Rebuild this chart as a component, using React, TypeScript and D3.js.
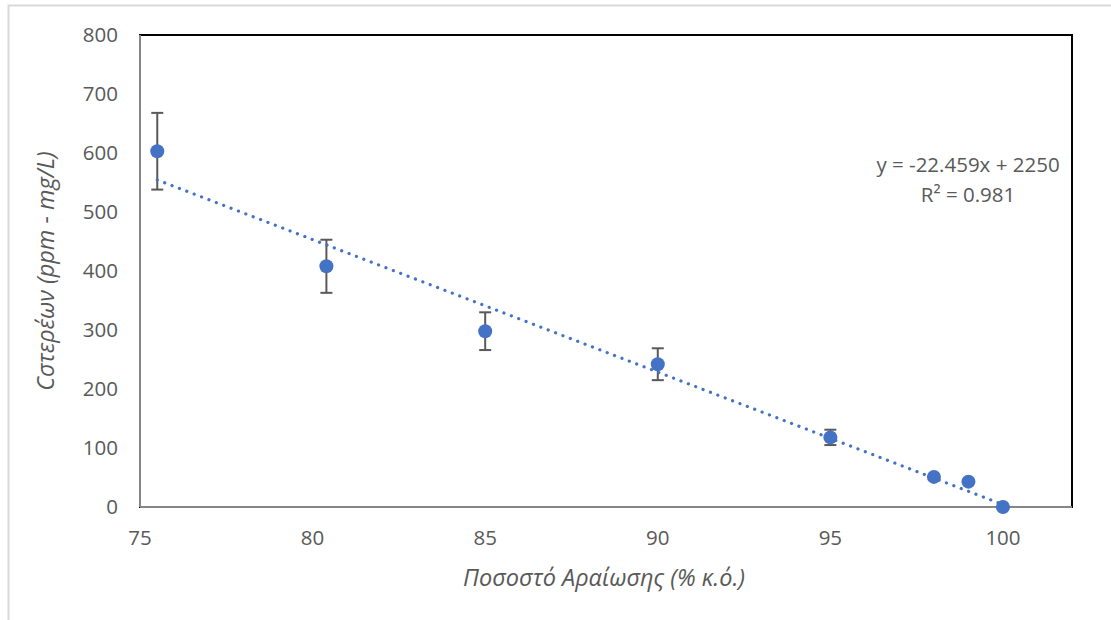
import React, { useEffect, useRef } from "react";
import * as d3 from "d3";

// dilution % and measured value, with error bar half-width
const dilution = [75.5, 80.4, 85, 90, 95, 98, 99, 100];
const solids = [603, 408, 298, 242, 118, 51, 43, 0];
const errors = [65, 45, 32, 27, 13, 0, 0, 0];
const xTicks = [75, 80, 85, 90, 95, 100];
const yTicks = [0, 100, 200, 300, 400, 500, 600, 700, 800];
const slope = -22.459;
const intercept = 2250;
const equationLines = ["y = -22.459x + 2250", "R² = 0.981"];

const W = 1111;
const H = 620;
const FONT = "'Open Sans', sans-serif";

export default function App() {
  const svgRef = useRef<SVGSVGElement>(null);

  useEffect(() => {
    const svg = d3.select(svgRef.current);
    svg.selectAll("*").remove();

    const left = 140, right = 1072, top = 35, bottom = 507;
    const x = d3.scaleLinear().domain([75, 102]).range([left, right]);
    const y = d3.scaleLinear().domain([0, 800]).range([bottom, top]);

    // chart frame
    svg.append("rect")
      .attr("x", 8.5).attr("y", 5.5)
      .attr("width", 1200).attr("height", 800)
      .attr("fill", "white").attr("stroke", "#d9d9d9").attr("stroke-width", 2);

    // plot area border
    svg.append("rect")
      .attr("x", left).attr("y", top)
      .attr("width", right - left).attr("height", bottom - top)
      .attr("fill", "none").attr("stroke", "#000").attr("stroke-width", 2);

    // axes lines (gray)
    svg.append("line").attr("x1", left).attr("x2", left).attr("y1", top).attr("y2", bottom)
      .attr("stroke", "#868686").attr("stroke-width", 2);
    svg.append("line").attr("x1", left).attr("x2", right).attr("y1", bottom).attr("y2", bottom)
      .attr("stroke", "#868686").attr("stroke-width", 2);

    // tick labels
    svg.append("g").selectAll("text").data(yTicks).join("text")
      .attr("x", 118).attr("y", d => y(d))
      .attr("dy", "0.35em").attr("text-anchor", "end")
      .attr("font-family", FONT).attr("font-size", 20.5).attr("fill", "#595959")
      .text(d => d);
    svg.append("g").selectAll("text").data(xTicks).join("text")
      .attr("x", d => x(d)).attr("y", 538)
      .attr("dy", "0.35em").attr("text-anchor", "middle")
      .attr("font-family", FONT).attr("font-size", 20.5).attr("fill", "#595959")
      .text(d => d);

    // axis titles
    svg.append("text")
      .attr("transform", "translate(46,271) rotate(-90)")
      .attr("text-anchor", "middle").attr("dy", "0.35em")
      .attr("font-family", FONT).attr("font-size", 23.5).attr("font-style", "italic").attr("fill", "#595959")
      .text("Cστερέων (ppm - mg/L)");
    svg.append("text")
      .attr("x", 604).attr("y", 578)
      .attr("text-anchor", "middle").attr("dy", "0.35em")
      .attr("font-family", FONT).attr("font-size", 23.5).attr("font-style", "italic").attr("fill", "#595959")
      .text("Ποσοστό Αραίωσης (% κ.ό.)");

    const data = dilution.map((d, i) => ({ x: d, y: solids[i], e: errors[i] }));

    // error bars
    const eb = svg.append("g").attr("stroke", "#595959").attr("stroke-width", 2);
    data.filter(d => d.e > 0).forEach(d => {
      const cx = x(d.x);
      eb.append("line").attr("x1", cx).attr("x2", cx).attr("y1", y(d.y + d.e)).attr("y2", y(d.y - d.e));
      eb.append("line").attr("x1", cx - 6).attr("x2", cx + 6).attr("y1", y(d.y + d.e)).attr("y2", y(d.y + d.e));
      eb.append("line").attr("x1", cx - 6).attr("x2", cx + 6).attr("y1", y(d.y - d.e)).attr("y2", y(d.y - d.e));
    });

    // markers
    svg.append("g").selectAll("circle").data(data).join("circle")
      .attr("cx", d => x(d.x)).attr("cy", d => y(d.y)).attr("r", 7)
      .attr("fill", "#4472c4");

    // trendline
    const x0 = d3.min(dilution)!, x1 = d3.max(dilution)!;
    const line = d3.line<number>().x(v => x(v)).y(v => y(slope * v + intercept));
    svg.append("path")
      .attr("d", line([x0, x1]))
      .attr("fill", "none").attr("stroke", "#4472c4").attr("stroke-width", 3.2)
      .attr("stroke-linecap", "round").attr("stroke-dasharray", "0.1 7.8");

    // equation
    svg.append("g").selectAll("text").data(equationLines).join("text")
      .attr("x", 968).attr("y", (d, i) => 165 + i * 30)
      .attr("dy", "0.35em").attr("text-anchor", "middle")
      .attr("font-family", FONT).attr("font-size", 20.5).attr("fill", "#595959")
      .text(d => d);
  }, []);

  return (
    <svg ref={svgRef} width={W} height={H}
      style={{ position: "absolute", left: 0, top: 0, background: "white" }} />
  );
}
